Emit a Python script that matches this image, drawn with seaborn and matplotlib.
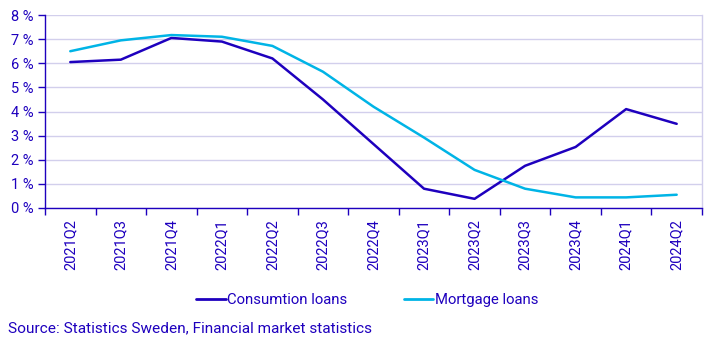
import matplotlib
matplotlib.use("Agg")
import matplotlib.pyplot as plt
import seaborn as sns
import pandas as pd
import numpy as np
from matplotlib.ticker import FixedLocator, FuncFormatter
from matplotlib.lines import Line2D

quarters = ["2021Q2", "2021Q3", "2021Q4", "2022Q1", "2022Q2", "2022Q3", "2022Q4",
            "2023Q1", "2023Q2", "2023Q3", "2023Q4", "2024Q1", "2024Q2"]
consumption = [6.05, 6.15, 7.05, 6.9, 6.2, 4.5, 2.65, 0.8, 0.38, 1.75, 2.53, 4.1, 3.49]
mortgage = [6.5, 6.95, 7.17, 7.1, 6.72, 5.65, 4.2, 2.92, 1.58, 0.8, 0.44, 0.44, 0.55]
series_names = ["Consumtion loans", "Mortgage loans"]

DARK = "#1E00BE"
LIGHT = "#00B4E6"
GRID = "#D2CFEC"

sns.set_theme(style="white")
plt.rcParams["font.family"] = ["Roboto", "DejaVu Sans"]

df = pd.DataFrame({
    "pos": list(range(len(quarters))) * 2,
    "value": consumption + mortgage,
    "series": [series_names[0]] * len(quarters) + [series_names[1]] * len(quarters),
})

fig = plt.figure(figsize=(7.17, 3.58), dpi=100)
ax = fig.add_axes([0.0628, 0.419, 0.9162, 0.539])

sns.lineplot(data=df, x="pos", y="value", hue="series",
             palette=[DARK, LIGHT], linewidth=1.8, ax=ax, legend=False)

n = len(quarters)
ax.set_xlim(-0.5, n - 0.5)
ax.set_ylim(0, 8)
ax.set_yticks(range(0, 9))
ax.yaxis.set_major_formatter(FuncFormatter(lambda v, p: f"{int(v)} %"))
ax.set_xticks(range(n))
ax.set_xticklabels(quarters, rotation=90)
ax.xaxis.set_minor_locator(FixedLocator(np.arange(-0.5, n, 1.0)))
ax.tick_params(axis="x", which="major", length=0, pad=8, labelsize=10.5, colors=DARK)
ax.tick_params(axis="x", which="minor", length=5, width=1, color=DARK, direction="out", bottom=True)
ax.tick_params(axis="y", which="major", length=5, width=1, color=DARK, direction="out",
               left=True, labelsize=10.5, labelcolor=DARK, pad=3)
ax.set_xlabel("")
ax.set_ylabel("")

ax.grid(axis="y", color=GRID, linewidth=1)
ax.set_axisbelow(True)
ax.spines["top"].set_visible(False)
ax.spines["right"].set_color(GRID)
ax.spines["right"].set_linewidth(1)
ax.spines["left"].set_color(DARK)
ax.spines["bottom"].set_color(DARK)
ax.spines["left"].set_linewidth(1)
ax.spines["bottom"].set_linewidth(1)

handles = [Line2D([0], [0], color=DARK, lw=2), Line2D([0], [0], color=LIGHT, lw=2)]
leg = fig.legend(handles, series_names, loc="center", bbox_to_anchor=(0.512, 0.162), ncol=2,
                 frameon=False, handlelength=2.0, handletextpad=0.1, columnspacing=3.8,
                 fontsize=10.7)
for t in leg.get_texts():
    t.set_color(DARK)

fig.text(0.011, 0.084, "Source: Statistics Sweden, Financial market statistics",
         color=DARK, fontsize=11.1, va="center", ha="left")

fig.savefig("out.png", dpi=100)
